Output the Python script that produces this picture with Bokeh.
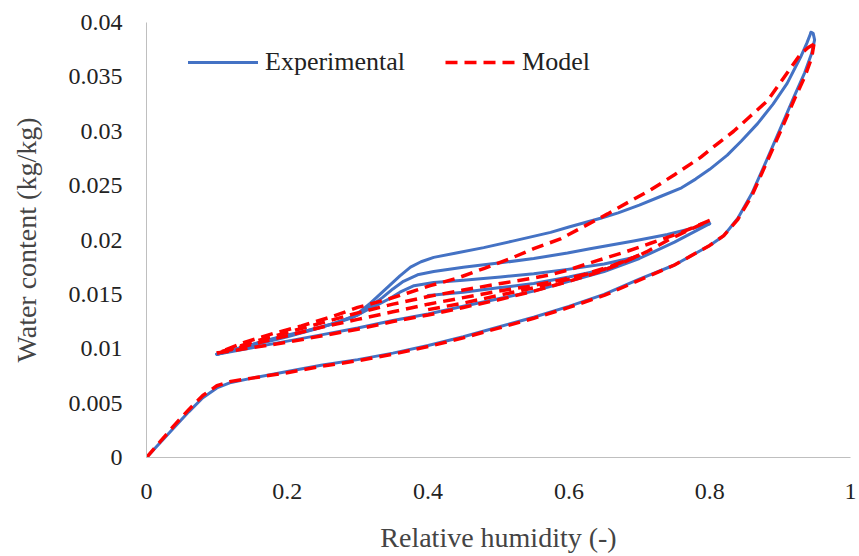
from bokeh.plotting import figure
from bokeh.models import Range1d, FixedTicker, Legend, LegendItem, NumeralTickFormatter
from bokeh.embed import file_html
from bokeh.resources import INLINE

# ---------------- data ----------------
x_ticks = [0, 0.2, 0.4, 0.6, 0.8, 1]
y_ticks = [0, 0.005, 0.01, 0.015, 0.02, 0.025, 0.03, 0.035, 0.04]

# Experimental curves
exp_ads_main_x = [0, 0.02, 0.04, 0.06, 0.08, 0.10, 0.12, 0.15, 0.2, 0.25, 0.3, 0.35, 0.4, 0.45,
                  0.5, 0.55, 0.6, 0.65, 0.7, 0.75, 0.8, 0.82, 0.84, 0.86, 0.88, 0.9, 0.92,
                  0.935, 0.945, 0.949, 0.947, 0.944]
exp_ads_main_y = [0, 0.0014, 0.0028, 0.0042, 0.0055, 0.0064, 0.0069, 0.0073, 0.0079, 0.0085,
                  0.0090, 0.0096, 0.0103, 0.0111, 0.0120, 0.0129, 0.0139, 0.0150, 0.0164,
                  0.0177, 0.0195, 0.0204, 0.0220, 0.0243, 0.0272, 0.0302, 0.0332, 0.0354,
                  0.0372, 0.0384, 0.0390, 0.0391]

exp_des_main_x = [0.944, 0.938, 0.929, 0.91, 0.89, 0.868, 0.845, 0.825, 0.8, 0.78, 0.76, 0.73,
                  0.7, 0.67, 0.645, 0.6, 0.574, 0.52, 0.479, 0.44, 0.408, 0.39, 0.375, 0.36,
                  0.345, 0.33, 0.318, 0.305, 0.294, 0.27, 0.24, 0.2, 0.15, 0.1]
exp_des_main_y = [0.0391, 0.0381, 0.0368, 0.0344, 0.0325, 0.0307, 0.0291, 0.0278, 0.0265,
                  0.0256, 0.0248, 0.0240, 0.0232, 0.0225, 0.0220, 0.0212, 0.0207, 0.0199,
                  0.0193, 0.0188, 0.0184, 0.0180, 0.0175, 0.0167, 0.0158, 0.0149, 0.0142,
                  0.0135, 0.0130, 0.0124, 0.0118, 0.0111, 0.0103, 0.0095]

exp_des_08_x = [0.8, 0.777, 0.74, 0.692, 0.63, 0.598, 0.55, 0.503, 0.45, 0.408, 0.385, 0.365,
                0.35, 0.335, 0.32, 0.305, 0.29, 0.26, 0.22, 0.18, 0.14, 0.1]
exp_des_08_y = [0.0215, 0.0211, 0.0205, 0.0199, 0.0192, 0.0188, 0.0183, 0.0179, 0.0175, 0.0171,
                0.0168, 0.0162, 0.0155, 0.0147, 0.0140, 0.0133, 0.0128, 0.0122, 0.0115,
                0.0109, 0.0102, 0.0095]

exp_des_07_x = [0.7, 0.65, 0.598, 0.55, 0.503, 0.45, 0.408, 0.38, 0.36, 0.345, 0.33, 0.314,
                0.3, 0.27, 0.23, 0.19, 0.15, 0.1]
exp_des_07_y = [0.0185, 0.0178, 0.0173, 0.0169, 0.0166, 0.0163, 0.0161, 0.0158, 0.0152, 0.0146,
                0.0141, 0.0136, 0.0131, 0.0124, 0.0117, 0.0111, 0.0104, 0.0095]

exp_scan_04_x = [0.4, 0.45, 0.5, 0.55, 0.6, 0.65, 0.7]
exp_scan_04_y = [0.0149, 0.0152, 0.0156, 0.0160, 0.0166, 0.0173, 0.0184]

exp_ads_01_x = [0.1, 0.15, 0.2, 0.25, 0.3, 0.35, 0.4, 0.45, 0.5, 0.55, 0.6, 0.65, 0.7, 0.75, 0.8]
exp_ads_01_y = [0.0095, 0.0101, 0.0107, 0.0113, 0.0119, 0.0126, 0.0132, 0.0139, 0.0146, 0.0153,
                0.0162, 0.0171, 0.0183, 0.0198, 0.0215]

# Model curves
mod_ads_main_x = [0, 0.02, 0.04, 0.06, 0.08, 0.1, 0.12, 0.15, 0.2, 0.25, 0.3, 0.35, 0.4, 0.45,
                  0.5, 0.55, 0.6, 0.65, 0.7, 0.75, 0.8, 0.82, 0.84, 0.86, 0.88, 0.9, 0.92,
                  0.935, 0.945, 0.948]
mod_ads_main_y = [0, 0.0015, 0.0030, 0.0044, 0.0057, 0.0066, 0.0070, 0.0073, 0.0078, 0.0084,
                  0.0089, 0.0095, 0.0102, 0.0110, 0.0119, 0.0128, 0.0138, 0.0149, 0.0163,
                  0.0177, 0.0195, 0.0204, 0.0219, 0.0241, 0.0270, 0.0299, 0.0329, 0.0350,
                  0.0368, 0.0380]

mod_des_main_x = [0.948, 0.94, 0.929, 0.905, 0.882, 0.858, 0.834, 0.81, 0.787, 0.75, 0.716,
                  0.685, 0.655, 0.62, 0.588, 0.55, 0.517, 0.48, 0.442, 0.403, 0.37, 0.34, 0.3,
                  0.261, 0.22, 0.18, 0.14, 0.1]
mod_des_main_y = [0.0380, 0.0377, 0.0371, 0.0349, 0.0328, 0.0314, 0.0300, 0.0288, 0.0276,
                  0.0260, 0.0246, 0.0235, 0.0224, 0.0212, 0.0201, 0.0192, 0.0183, 0.0174,
                  0.0165, 0.0158, 0.0151, 0.0145, 0.0138, 0.0129, 0.0121, 0.0114, 0.0106,
                  0.0096]

mod_des_08_x = [0.8, 0.76, 0.716, 0.68, 0.64, 0.602, 0.574, 0.55, 0.503, 0.45, 0.4, 0.35, 0.3,
                0.25, 0.2, 0.15, 0.1]
mod_des_08_y = [0.0218, 0.0207, 0.0197, 0.0189, 0.0181, 0.0173, 0.0168, 0.0165, 0.0160, 0.0154,
                0.0148, 0.0141, 0.0133, 0.0124, 0.0115, 0.0106, 0.0096]

mod_ads_01_x = [0.1, 0.15, 0.2, 0.25, 0.3, 0.35, 0.4, 0.45, 0.5, 0.55, 0.6, 0.64, 0.673, 0.71,
                0.744, 0.77, 0.8]
mod_ads_01_y = [0.0096, 0.0101, 0.0106, 0.0112, 0.0118, 0.0125, 0.0131, 0.0138, 0.0145, 0.0153,
                0.0162, 0.0170, 0.0178, 0.0189, 0.0201, 0.0209, 0.0218]

mod_des_07_x = [0.7, 0.66, 0.62, 0.58, 0.54, 0.5, 0.45, 0.4, 0.35, 0.3, 0.25, 0.2, 0.15, 0.1]
mod_des_07_y = [0.0186, 0.0176, 0.0168, 0.0162, 0.0157, 0.0153, 0.0147, 0.0141, 0.0134, 0.0127,
                0.0120, 0.0112, 0.0104, 0.0096]

mod_scan_04_x = [0.4, 0.45, 0.5, 0.55, 0.6, 0.65, 0.7]
mod_scan_04_y = [0.0136, 0.0142, 0.0149, 0.0156, 0.0164, 0.0173, 0.0186]

exp_series = [
    (exp_ads_main_x, exp_ads_main_y),
    (exp_des_main_x, exp_des_main_y),
    (exp_des_08_x, exp_des_08_y),
    (exp_des_07_x, exp_des_07_y),
    (exp_scan_04_x, exp_scan_04_y),
    (exp_ads_01_x, exp_ads_01_y),
]
mod_series = [
    (mod_ads_main_x, mod_ads_main_y),
    (mod_des_main_x, mod_des_main_y),
    (mod_des_08_x, mod_des_08_y),
    (mod_ads_01_x, mod_ads_01_y),
    (mod_des_07_x, mod_des_07_y),
    (mod_scan_04_x, mod_scan_04_y),
]

# ---------------- figure ----------------
BLUE = "#4472C4"
RED = "#FF0000"
SERIF = "'Liberation Serif', 'Times New Roman', serif"

p = figure(width=859, height=556, output_backend="svg", toolbar_location=None,
           x_range=Range1d(0, 1), y_range=Range1d(0, 0.04),
           min_border_left=146, min_border_right=9, min_border_top=22, min_border_bottom=99)
p.outline_line_color = None
p.xgrid.visible = False
p.ygrid.visible = False

p.xaxis.ticker = FixedTicker(ticks=x_ticks)
p.yaxis.ticker = FixedTicker(ticks=y_ticks)
p.xaxis.formatter = NumeralTickFormatter(format="0.[000]")
p.yaxis.formatter = NumeralTickFormatter(format="0.[000]")
p.xaxis.axis_label = "Relative humidity (-)"
p.yaxis.axis_label = "Water content (kg/kg)"

p.axis.major_label_text_font = SERIF
p.axis.axis_label_text_font = SERIF

p.axis.axis_line_color = "#BFBFBF"
p.axis.major_tick_line_color = None
p.axis.major_tick_out = 0
p.axis.major_tick_in = 0
p.axis.minor_tick_out = 0
p.axis.minor_tick_in = 0
p.axis.major_label_text_color = "#222222"
p.axis.axis_label_text_font_style = "normal"
p.axis.major_label_text_font_size = "24px"
p.axis.axis_label_text_font_size = "28px"

p.xaxis.major_label_standoff = 26
p.xaxis.axis_label_standoff = 20
p.yaxis.major_label_standoff = 24
p.yaxis.axis_label_standoff = 24

exp_renderers = []
for xs, ys in exp_series:
    r = p.line(xs, ys, line_color=BLUE, line_width=3, line_join="round", line_cap="round")
    exp_renderers.append(r)

mod_renderers = []
for xs, ys in mod_series:
    r = p.line(xs, ys, line_color=RED, line_width=3.5, line_dash="12 7", line_join="round")
    mod_renderers.append(r)

legend = Legend(items=[LegendItem(label="Experimental", renderers=[exp_renderers[0]]),
                       LegendItem(label="Model", renderers=[mod_renderers[0]])],
                orientation="horizontal", location=(42, 380))
legend.glyph_width = 70
legend.glyph_height = 20
legend.label_standoff = 7
legend.spacing = 40
legend.padding = 0
legend.margin = 0
legend.border_line_alpha = 0
legend.background_fill_alpha = 0
legend.label_text_font = "'Liberation Serif'"
legend.label_text_font_size = "26px"
legend.label_text_color = "#222222"
p.add_layout(legend)

open("out.html", "w").write(file_html(p, INLINE))
